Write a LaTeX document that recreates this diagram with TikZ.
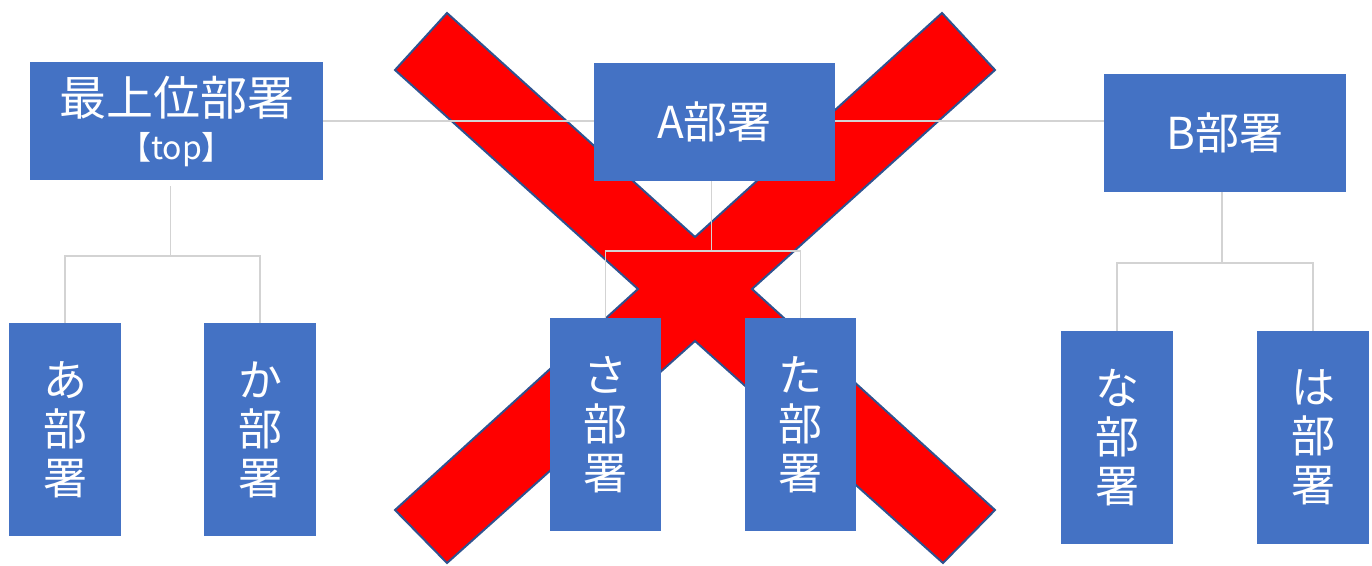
\documentclass[tikz,border=0pt]{standalone}
\usepackage{fontspec}
\setmainfont{Noto Sans CJK JP}
\usetikzlibrary{calc}
\definecolor{boxblue}{HTML}{4472C4}
\definecolor{xline}{HTML}{2F528F}
\definecolor{conn}{HTML}{D3D3D3}
\tikzset{
  dept/.style={fill=boxblue, text=white, inner sep=0pt, outer sep=0pt, anchor=north west, align=center},
  wide/.style={dept, minimum width=241pt, minimum height=118pt, font=\fontsize{44}{48}\selectfont},
  tall/.style={dept, minimum width=111pt, minimum height=213pt, font=\fontsize{44}{49}\selectfont},
  link/.style={draw=conn, line width=1.5pt},
  cross/.style={fill=red, draw=xline, line width=2pt, line join=miter}
}
\begin{document}
\begin{tikzpicture}[x=1pt,y=-1pt]
\useasboundingbox (0,0) rectangle (1372,565);
% red X
\filldraw[cross] (447,13) -- (695,237) -- (942,13) -- (995,70) -- (752,289)
  -- (995,510) -- (943,563) -- (695,341) -- (447,563) -- (395,510)
  -- (638,289) -- (395,70) -- cycle;
% junction levels
\coordinate (j1) at (0,256);
\coordinate (j2) at (0,251);
\coordinate (j3) at (0,263);
% nodes
\node[wide, minimum width=293pt, font=\fontsize{47}{50}\selectfont] (top) at (30,62) {最上位部署\\[-6pt]{\fontsize{32}{35}\selectfont 【top】}};
\node[wide] (A) at (594,63) {A部署};
\node[wide, minimum width=242pt] (B) at (1104,74) {B部署};
\node[tall, minimum width=112pt] (a) at (9,323) {あ\\部\\署};
\node[tall, minimum width=112pt] (ka) at (204,323) {か\\部\\署};
\node[tall] (sa) at (550,318) {さ\\部\\署};
\node[tall] (ta) at (745,318) {た\\部\\署};
\node[tall, minimum width=112pt] (na) at (1061,331) {な\\部\\署};
\node[tall, minimum width=112pt] (ha) at (1257,331) {は\\部\\署};
% junction points
\coordinate (t1) at ($(top.south)+(-6,6)$);
\coordinate (t2) at ($(A.south)+(-3,0)$);
\coordinate (t3) at ($(B.south)+(-3,0)$);
% connectors
\draw[link] (top.east |- 0,121) -- (A.west |- 0,121);
\draw[link] (A.east |- 0,121) -- (B.west |- 0,121);
\draw[link] (t1) -- (t1 |- j1);
\draw[link] (a.north) |- (t1 |- j1) -| (ka.north);
\draw[link] (t2) -- (t2 |- j2);
\draw[link] (sa.north) |- (t2 |- j2) -| (ta.north);
\draw[link] (t3) -- (t3 |- j3);
\draw[link] (na.north) |- (t3 |- j3) -| (ha.north);
\end{tikzpicture}
\end{document}
